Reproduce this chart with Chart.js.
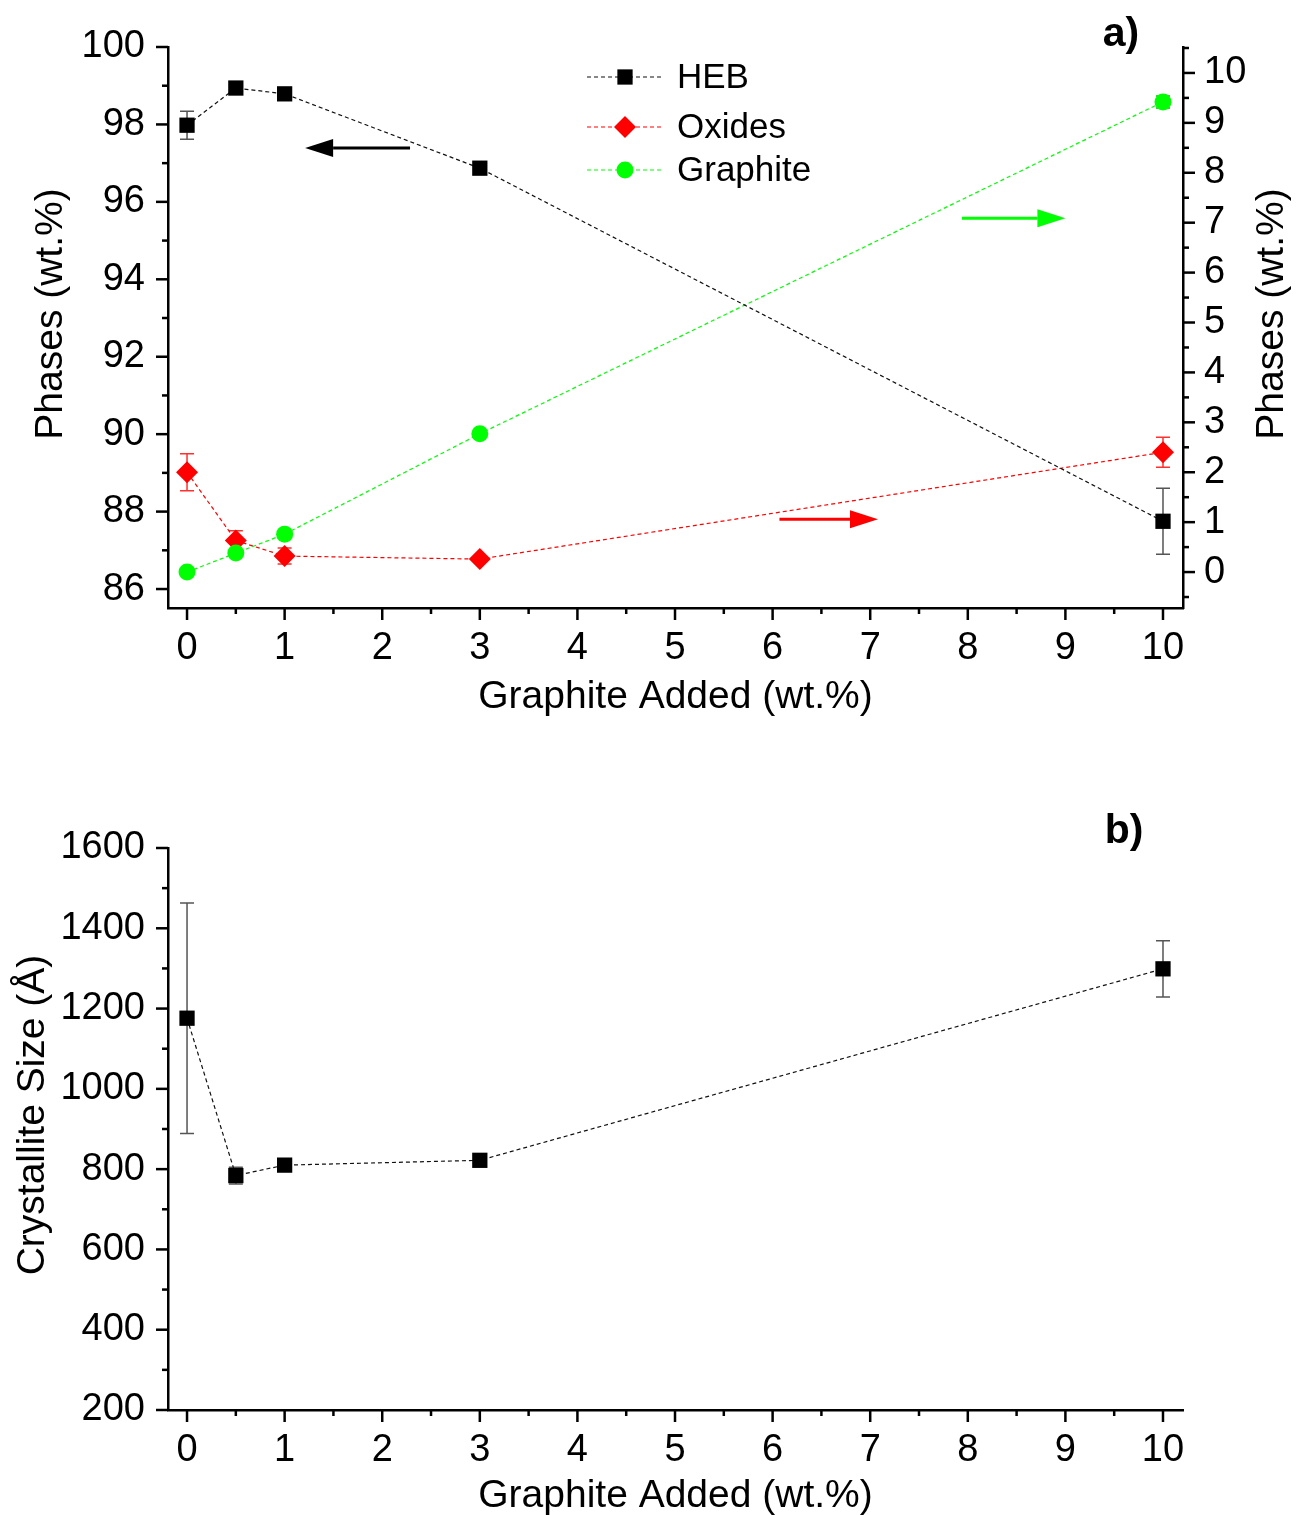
<!DOCTYPE html>
<html>
<head>
<meta charset="utf-8">
<script src="https://cdn.jsdelivr.net/npm/chart.js@4.4.1/dist/chart.umd.min.js"></script>
<style>
  html, body { margin: 0; padding: 0; background: #fff; }
  #wrap { position: relative; width: 1296px; height: 1515px; }
  .box { position: absolute; left: 0; }
  #boxA { top: 0; }
  #boxB { top: 760px; }
</style>
</head>
<body>
<div id="wrap">
  <div class="box" id="boxA"><canvas id="chartA" width="1296" height="740"></canvas></div>
  <div class="box" id="boxB"><canvas id="chartB" width="1296" height="755"></canvas></div>
</div>
<script>
// x positions (graphite added, wt.%)
const xValues = [0, 0.5, 1, 3, 10];

// panel a) phases
const hebPhase = [97.98, 98.94, 98.79, 96.87, 87.75];
const hebPhaseErr = [0.36, 0, 0, 0, 0.85];
const oxidesPhase = [2.0, 0.63, 0.32, 0.26, 2.4];
const oxidesPhaseErr = [0.37, 0.2, 0.16, 0, 0.3];
const graphitePhase = [0.0, 0.38, 0.76, 2.77, 9.42];
const graphitePhaseErr = [0, 0, 0, 0, 0.12];

// panel b) crystallite size
const crystalliteSize = [1176, 784, 810, 822, 1299];
const crystalliteErr = [287, 21, 0, 0, 70];

// tick labels
const xTicks = [0, 1, 2, 3, 4, 5, 6, 7, 8, 9, 10];
const phaseLeftTicks = [86, 88, 90, 92, 94, 96, 98, 100];
const phaseRightTicks = [0, 1, 2, 3, 4, 5, 6, 7, 8, 9, 10];
const sizeTicks = [200, 400, 600, 800, 1000, 1200, 1400, 1600];

// arrows pointing to the axis each series belongs to (data coords)
const arrows = [
  { axis: 'y',  x0: 2.285, x1: 1.21, y: 97.39, color: '#000000' },
  { axis: 'y2', x0: 7.94,  x1: 9.0,  y: 7.09,  color: '#00ff00' },
  { axis: 'y2', x0: 6.07,  x1: 7.08, y: 1.06,  color: '#ff0000' }
];

const FONT = '"Liberation Sans", Arial, Helvetica, sans-serif';
Chart.defaults.font.family = FONT;
Chart.defaults.color = '#000';

function minorsOf(majors) {
  const out = [];
  const step = majors[1] - majors[0];
  out.push(majors[0] - step / 2);
  for (let i = 0; i < majors.length; i++) out.push(majors[i] + step / 2);
  return out;
}

function drawTicks(ctx, scale, majors, side) {
  const minors = minorsOf(majors);
  ctx.save();
  ctx.strokeStyle = '#000';
  ctx.lineWidth = 2.5;
  const one = (v, len) => {
    if (v < scale.min - 1e-9 || v > scale.max + 1e-9) return;
    const p = scale.getPixelForValue(v);
    ctx.beginPath();
    if (side === 'bottom') { ctx.moveTo(p, scale.top); ctx.lineTo(p, scale.top + len); }
    else if (side === 'left') { ctx.moveTo(scale.right, p); ctx.lineTo(scale.right - len, p); }
    else { ctx.moveTo(scale.left, p); ctx.lineTo(scale.left + len, p); }
    ctx.stroke();
  };
  majors.forEach(v => one(v, 12));
  minors.forEach(v => one(v, 6));
  ctx.restore();
}

function vTitle(ctx, text, x, y) {
  ctx.save();
  ctx.translate(x, y);
  ctx.rotate(-Math.PI / 2);
  ctx.font = '39px ' + FONT;
  ctx.fillStyle = '#000';
  ctx.textAlign = 'center';
  ctx.textBaseline = 'middle';
  ctx.fillText(text, 0, 0);
  ctx.restore();
}

function makeDecor(cfg) {
  return {
    id: 'decor' + cfg.name,
    beforeDatasetsDraw(chart) {
      const ctx = chart.ctx;
      cfg.errors.forEach(e => {
        const meta = chart.getDatasetMeta(e.dataset);
        const ys = chart.scales[meta.yAxisID];
        const pts = chart.data.datasets[e.dataset].data;
        ctx.save();
        ctx.lineWidth = 1.5;
        ctx.strokeStyle = e.color;
        e.err.forEach((d, j) => {
          if (!d) return;
          const px = meta.data[j].x;
          const top = ys.getPixelForValue(pts[j].y + d);
          const bot = ys.getPixelForValue(pts[j].y - d);
          ctx.beginPath();
          ctx.moveTo(px, top); ctx.lineTo(px, bot);
          ctx.moveTo(px - 7, top); ctx.lineTo(px + 7, top);
          ctx.moveTo(px - 7, bot); ctx.lineTo(px + 7, bot);
          ctx.stroke();
        });
        ctx.restore();
      });
    },
    afterDraw(chart) {
      const ctx = chart.ctx;
      cfg.ticks.forEach(t => drawTicks(ctx, chart.scales[t.id], t.majors, t.side));

      // arrows
      (cfg.arrows || []).forEach(a => {
        const xs = chart.scales.x, ys = chart.scales[a.axis];
        const x0 = xs.getPixelForValue(a.x0), x1 = xs.getPixelForValue(a.x1);
        const y = ys.getPixelForValue(a.y);
        const dir = Math.sign(x1 - x0);
        const head = 28;
        ctx.save();
        ctx.strokeStyle = a.color; ctx.fillStyle = a.color; ctx.lineWidth = 3;
        ctx.beginPath(); ctx.moveTo(x0, y); ctx.lineTo(x1 - dir * head, y); ctx.stroke();
        ctx.beginPath();
        ctx.moveTo(x1, y);
        ctx.lineTo(x1 - dir * head, y - 9);
        ctx.lineTo(x1 - dir * head, y + 9);
        ctx.closePath(); ctx.fill();
        ctx.restore();
      });

      // legend
      (cfg.legend || []).forEach(l => {
        const ds = chart.data.datasets[l.dataset];
        ctx.save();
        ctx.strokeStyle = ds.borderColor; ctx.lineWidth = 1.2;
        ctx.setLineDash([4, 3]);
        ctx.beginPath(); ctx.moveTo(587, l.y); ctx.lineTo(663, l.y); ctx.stroke();
        ctx.setLineDash([]);
        ctx.fillStyle = ds.pointBackgroundColor; ctx.strokeStyle = ds.pointBackgroundColor;
        Chart.helpers.drawPoint(ctx, { pointStyle: ds.pointStyle, radius: ds.pointRadius, rotation: 0, borderWidth: 0 }, 625, l.y);
        ctx.font = '35px ' + FONT; ctx.fillStyle = '#000';
        ctx.textAlign = 'left'; ctx.textBaseline = 'middle';
        ctx.fillText(ds.label, 677, l.y + 1);
        ctx.restore();
      });

      // y titles
      cfg.yTitles.forEach(t => vTitle(ctx, t.text, t.x, t.y));

      // panel label
      ctx.save();
      ctx.font = 'bold 41px ' + FONT; ctx.fillStyle = '#000';
      ctx.textAlign = 'center'; ctx.textBaseline = 'middle';
      ctx.fillText(cfg.panel.text, cfg.panel.x, cfg.panel.y);
      ctx.restore();
    }
  };
}

const tickFont = { size: 38 };
const xScale = (titlePad, height) => ({
  type: 'linear', min: -0.195, max: 10.205,
  grid: { display: false, drawTicks: false },
  border: { display: true, color: '#000', width: 2.5 },
  ticks: { font: tickFont, padding: 18, autoSkip: false, maxRotation: 0, callback: v => String(v) },
  afterBuildTicks: s => { s.ticks = xTicks.map(v => ({ value: v })); },
  afterFit: s => { s.height = height; },
  title: { display: true, text: 'Graphite Added (wt.%)', font: { size: 39 }, padding: { top: 0, bottom: titlePad } }
});

const pt = (vals) => xValues.map((x, i) => ({ x: x, y: vals[i] }));

// ---------- panel a ----------
new Chart(document.getElementById('chartA'), {
  type: 'line',
  data: {
    datasets: [
      { label: 'HEB', data: pt(hebPhase), yAxisID: 'y', order: 0,
        borderColor: '#111', borderWidth: 1.2, borderDash: [4, 3],
        pointStyle: 'rect', pointRadius: 10.8, pointBackgroundColor: '#000', pointBorderWidth: 0 },
      { label: 'Oxides', data: pt(oxidesPhase), yAxisID: 'y2', order: 2,
        borderColor: '#ff0000', borderWidth: 1.2, borderDash: [4, 3],
        pointStyle: 'rectRot', pointRadius: 11, pointBackgroundColor: '#ff0000', pointBorderWidth: 0 },
      { label: 'Graphite', data: pt(graphitePhase), yAxisID: 'y2', order: 1,
        borderColor: '#00ff00', borderWidth: 1.2, borderDash: [4, 3],
        pointStyle: 'circle', pointRadius: 8.5, pointBackgroundColor: '#00ff00', pointBorderWidth: 0 }
    ]
  },
  options: {
    responsive: false, animation: false,
    layout: { padding: { top: 47, left: 0, right: 0, bottom: 0 } },
    plugins: { legend: { display: false }, tooltip: { enabled: false } },
    scales: {
      x: xScale(19, 740 - 608),
      y: {
        type: 'linear', position: 'left', min: 85.51, max: 100,
        grid: { display: false, drawTicks: false },
        border: { display: true, color: '#000', width: 2.5 },
        ticks: { font: tickFont, padding: 23, callback: v => String(v) },
        afterBuildTicks: s => { s.ticks = phaseLeftTicks.map(v => ({ value: v })); },
        afterFit: s => { s.width = 168; }
      },
      y2: {
        type: 'linear', position: 'right', min: -0.72, max: 10.52,
        grid: { display: false, drawTicks: false },
        border: { display: true, color: '#000', width: 2.5 },
        ticks: { font: tickFont, padding: 21, callback: v => String(v) },
        afterBuildTicks: s => { s.ticks = phaseRightTicks.map(v => ({ value: v })); },
        afterFit: s => { s.width = 1296 - 1183; }
      }
    }
  },
  plugins: [makeDecor({
    name: 'A',
    errors: [
      { dataset: 0, err: hebPhaseErr, color: '#555' },
      { dataset: 1, err: oxidesPhaseErr, color: '#ff3030' },
      { dataset: 2, err: graphitePhaseErr, color: '#00c000' }
    ],
    ticks: [
      { id: 'x', majors: xTicks, side: 'bottom' },
      { id: 'y', majors: phaseLeftTicks, side: 'left' },
      { id: 'y2', majors: phaseRightTicks, side: 'right' }
    ],
    arrows: arrows,
    legend: [{ dataset: 0, y: 77 }, { dataset: 1, y: 127 }, { dataset: 2, y: 170 }],
    yTitles: [{ text: 'Phases (wt.%)', x: 51, y: 314 }, { text: 'Phases (wt.%)', x: 1272, y: 314 }],
    panel: { text: 'a)', x: 1121, y: 35 }
  })]
});

// ---------- panel b ----------
new Chart(document.getElementById('chartB'), {
  type: 'line',
  data: {
    datasets: [
      { label: 'HEB', data: pt(crystalliteSize), yAxisID: 'y',
        borderColor: '#111', borderWidth: 1.2, borderDash: [4, 3],
        pointStyle: 'rect', pointRadius: 10.8, pointBackgroundColor: '#000', pointBorderWidth: 0 }
    ]
  },
  options: {
    responsive: false, animation: false,
    layout: { padding: { top: 88, left: 0, right: 1296 - 1183, bottom: 0 } },
    plugins: { legend: { display: false }, tooltip: { enabled: false } },
    scales: {
      x: xScale(-5, 755 - 650),
      y: {
        type: 'linear', position: 'left', min: 200, max: 1600,
        grid: { display: false, drawTicks: false },
        border: { display: true, color: '#000', width: 2.5 },
        ticks: { font: tickFont, padding: 23, callback: v => String(v) },
        afterBuildTicks: s => { s.ticks = sizeTicks.map(v => ({ value: v })); },
        afterFit: s => { s.width = 168; }
      }
    }
  },
  plugins: [makeDecor({
    name: 'B',
    errors: [{ dataset: 0, err: crystalliteErr, color: '#555' }],
    ticks: [
      { id: 'x', majors: xTicks, side: 'bottom' },
      { id: 'y', majors: sizeTicks, side: 'left' }
    ],
    yTitles: [{ text: 'Crystallite Size (Å)', x: 33, y: 355 }],
    panel: { text: 'b)', x: 1124, y: 72 }
  })]
});
</script>
</body>
</html>
